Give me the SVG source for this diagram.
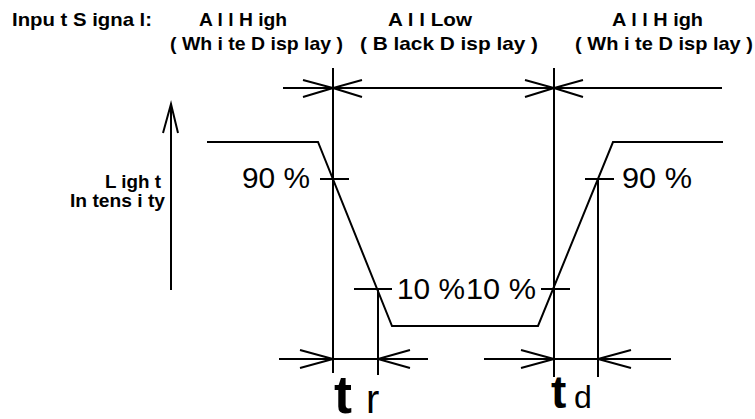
<svg xmlns="http://www.w3.org/2000/svg" width="755" height="419" viewBox="0 0 755 419">
<style>
.ln{fill:none;stroke:#000;stroke-width:2;stroke-linejoin:miter}
.hd{font-family:"Liberation Sans",Arial,sans-serif;font-weight:bold;font-size:18.5px;fill:#000}
.pc{font-family:"Liberation Sans",Arial,sans-serif;font-size:29px;fill:#000}
.tt{font-family:"Liberation Sans",Arial,sans-serif;fill:#000}
</style>
<rect width="755" height="419" fill="#fff"/>
<g id="labels">
<text class="hd" x="12" y="26" textLength="140" lengthAdjust="spacingAndGlyphs">Inpu t S igna l:</text>
<text class="hd" x="199" y="26" textLength="88" lengthAdjust="spacingAndGlyphs">A l l H igh</text>
<text class="hd" x="170" y="50" textLength="173" lengthAdjust="spacingAndGlyphs">( Wh i te D isp lay )</text>
<text class="hd" x="388" y="26" textLength="84" lengthAdjust="spacingAndGlyphs">A l l Low</text>
<text class="hd" x="360" y="50" textLength="178" lengthAdjust="spacingAndGlyphs">( B lack D isp lay )</text>
<text class="hd" x="612" y="26" textLength="91" lengthAdjust="spacingAndGlyphs">A l l H igh</text>
<text class="hd" x="575" y="50" textLength="178" lengthAdjust="spacingAndGlyphs">( Wh i te D isp lay )</text>
<text class="hd" x="105" y="188" textLength="56" lengthAdjust="spacingAndGlyphs">L igh t</text>
<text class="hd" x="70" y="207" textLength="95" lengthAdjust="spacingAndGlyphs">In tens i ty</text>
</g>
<g id="percent-labels">
<text class="pc" x="242" y="188" textLength="68" lengthAdjust="spacingAndGlyphs">90 %</text>
<text class="pc" x="397" y="299" textLength="68" lengthAdjust="spacingAndGlyphs">10 %</text>
<text class="pc" x="466" y="299" textLength="70" lengthAdjust="spacingAndGlyphs">10 %</text>
<text class="pc" x="622" y="188" textLength="70" lengthAdjust="spacingAndGlyphs">90 %</text>
</g>
<g id="time-labels">
<text class="tt" x="334" y="413" font-size="54" font-weight="bold">t</text>
<text class="tt" x="366" y="413" font-size="40">r</text>
<text class="tt" x="551" y="408" font-size="46" font-weight="bold">t</text>
<text class="tt" x="574" y="408" font-size="32">d</text>
</g>
<g id="waveform">
<polyline class="ln" points="207,142 318,142 392,326 538,326 613,142 723,142"/>
</g>
<g id="connectors">
<line class="ln" x1="171" y1="290" x2="171" y2="104"/>
<polyline class="ln" points="163,133 171,104 178,133"/>
<line class="ln" x1="283" y1="88" x2="722" y2="88"/>
<line class="ln" x1="333" y1="68" x2="333" y2="373"/>
<line class="ln" x1="554" y1="68" x2="554" y2="377"/>
<polyline class="ln" points="303,80 333,88 303,97"/>
<polyline class="ln" points="362,80 333,88 362,97"/>
<polyline class="ln" points="525,80 554,88 525,97"/>
<polyline class="ln" points="583,80 554,88 583,97"/>
<line class="ln" x1="320" y1="179" x2="349" y2="179"/>
<line class="ln" x1="354" y1="289" x2="392" y2="289"/>
<line class="ln" x1="541" y1="289" x2="570" y2="289"/>
<line class="ln" x1="585" y1="179" x2="614" y2="179"/>
<line class="ln" x1="378" y1="289" x2="378" y2="375"/>
<line class="ln" x1="598" y1="179" x2="598" y2="377"/>
<line class="ln" x1="279" y1="359" x2="428" y2="359"/>
<line class="ln" x1="484" y1="359" x2="671" y2="359"/>
<polyline class="ln" points="300,350 333,359 300,368"/>
<polyline class="ln" points="410,350 378,359 410,368"/>
<polyline class="ln" points="521,350 554,359 521,368"/>
<polyline class="ln" points="631,350 598,359 631,368"/>
</g>
</svg>
